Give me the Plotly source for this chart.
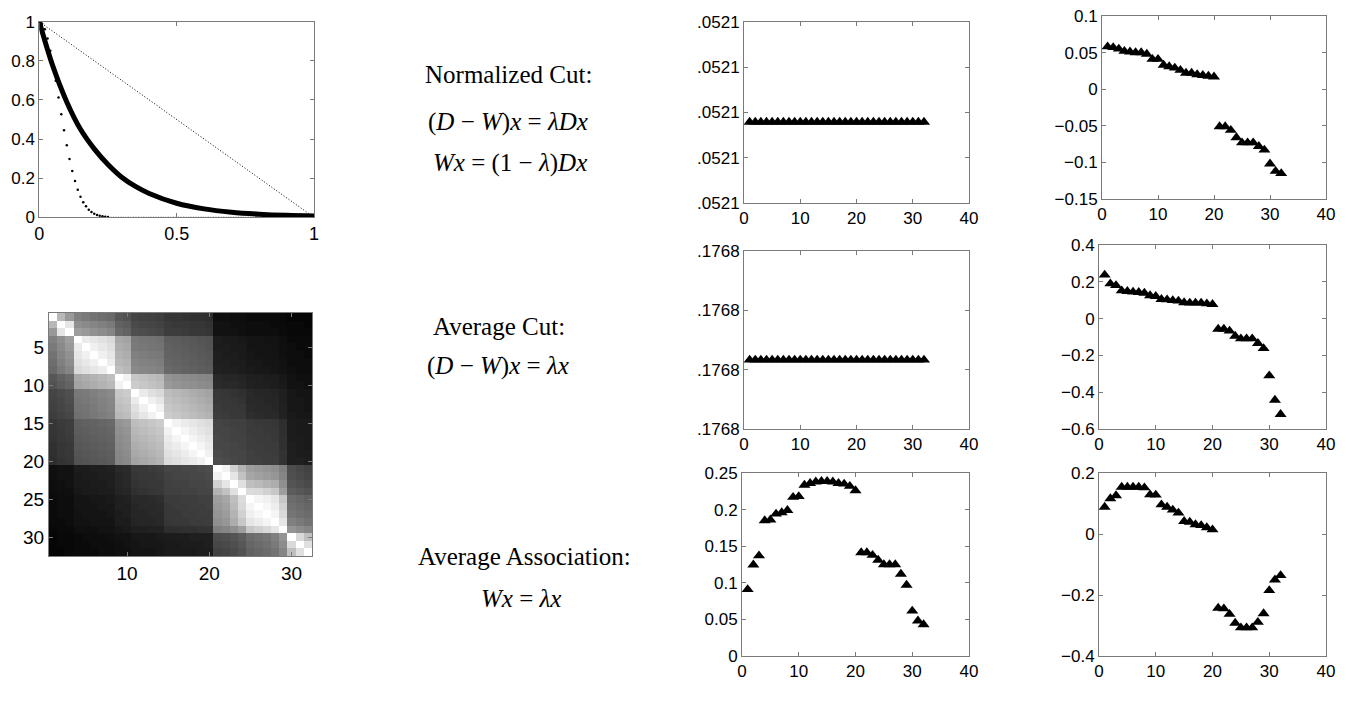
import plotly.graph_objects as go

W_PX, H_PX = 1350, 720

# ---------------- data ----------------
# top-left: weighting functions
exp_x = [0.0, 0.05, 0.1, 0.15, 0.2, 0.25, 0.3, 0.35, 0.4, 0.5, 0.6, 0.7, 0.8, 0.9, 1.0]
exp_y = [1.0, 0.77, 0.59, 0.45, 0.35, 0.27, 0.205, 0.158, 0.122, 0.072, 0.043, 0.026, 0.016, 0.01, 0.007]
lin_x = [0.0, 1.0]
lin_y = [1.0, 0.0]
gau_x = [0.00, 0.01, 0.02, 0.03, 0.04, 0.05, 0.06, 0.07, 0.08, 0.09, 0.10, 0.11, 0.12, 0.13,
         0.14, 0.15, 0.16, 0.17, 0.18, 0.19, 0.20, 0.21, 0.22, 0.23, 0.24, 0.25]
gau_y = [1.0, 0.99, 0.961, 0.914, 0.852, 0.779, 0.698, 0.613, 0.527, 0.445, 0.368, 0.298, 0.237,
         0.185, 0.141, 0.105, 0.077, 0.056, 0.039, 0.027, 0.018, 0.012, 0.008, 0.005, 0.003, 0.002]
tail_x = [0.25, 1.0]
tail_y = [0.0, 0.0]

# affinity matrix (grey level, 0 = black, 100 = white)
W_matrix = [
    [100,72,60, 50,48,45,43,41, 34,32, 27,26,25,24, 21,21,20,19,19,18, 6,6,5,5, 4,4,4,4, 3, 2,2,2],
    [72,100,90, 56,54,52,50,48, 38,36, 29,28,27,26, 23,22,22,21,21,20, 7,7,6,6, 5,5,5,4, 4, 3,3,2],
    [60,90,100, 62,60,57,55,52, 41,39, 31,30,29,28, 24,24,23,22,22,21, 7,7,7,6, 5,5,5,5, 4, 3,3,3],
    [50,56,62, 100,92,90,88,85, 66,64, 47,46,45,44, 37,36,35,34,33,32, 11,10,10,9, 8,8,7,7, 6, 4,4,4],
    [48,54,60, 92,100,94,91,88, 68,66, 48,47,46,45, 38,37,36,35,34,33, 11,11,10,10, 8,8,8,7, 6, 5,4,4],
    [45,52,57, 90,94,100,94,90, 70,68, 50,49,48,47, 39,38,37,36,35,34, 12,11,11,10, 9,8,8,8, 6, 5,5,4],
    [43,50,55, 88,91,94,100,93, 72,70, 52,51,50,49, 40,39,38,37,36,35, 12,12,11,11, 9,9,8,8, 7, 5,5,5],
    [41,48,52, 85,88,90,93,100, 75,72, 54,53,52,51, 41,40,39,38,37,36, 13,12,12,11, 10,9,9,8, 7, 6,5,5],
    [34,38,41, 66,68,70,72,75, 100,95, 78,76,74,72, 58,56,55,54,53,52, 16,15,15,14, 12,12,11,11, 9, 7,6,6],
    [32,36,39, 64,66,68,70,72, 95,100, 80,78,76,74, 60,58,57,56,55,54, 17,16,16,15, 13,12,12,11, 10, 7,7,6],
    [27,29,31, 47,48,50,52,54, 78,80, 100,92,88,85, 74,72,70,68,66,64, 22,21,20,19, 16,15,15,14, 12, 9,8,8],
    [26,28,30, 46,47,49,51,53, 76,78, 92,100,94,90, 76,74,72,70,68,66, 22,22,21,20, 16,16,15,15, 12, 9,9,8],
    [25,27,29, 45,46,48,50,52, 74,76, 88,94,100,95, 78,76,74,72,70,68, 23,22,22,21, 17,16,16,15, 13, 9,9,8],
    [24,26,28, 44,45,47,49,51, 72,74, 85,90,95,100, 80,78,76,74,72,70, 24,23,22,22, 18,17,16,16, 13, 10,9,9],
    [21,23,24, 37,38,39,40,41, 58,60, 74,76,78,80, 100,95,92,90,88,86, 27,26,25,25, 23,22,22,21, 18, 11,10,10],
    [21,22,24, 36,37,38,39,40, 56,58, 72,74,76,78, 95,100,96,93,90,88, 27,27,26,25, 23,23,22,22, 18, 11,10,10],
    [20,22,23, 35,36,37,38,39, 55,57, 70,72,74,76, 92,96,100,96,93,90, 28,27,26,26, 24,23,23,22, 19, 11,11,10],
    [19,21,22, 34,35,36,37,38, 54,56, 68,70,72,74, 90,93,96,100,96,92, 28,28,27,26, 24,24,23,23, 19, 12,11,10],
    [19,21,22, 33,34,35,36,37, 53,55, 66,68,70,72, 88,90,93,96,100,95, 29,28,27,27, 25,24,24,23, 20, 12,11,11],
    [18,20,21, 32,33,34,35,36, 52,54, 64,66,68,70, 86,88,90,92,95,100, 30,29,28,27, 25,25,24,24, 20, 12,12,11],
    [6,7,7, 11,11,12,12,13, 16,17, 22,22,23,24, 27,27,28,28,29,30, 100,95,82,70, 62,60,58,56, 50, 30,28,26],
    [6,7,7, 10,11,11,12,12, 15,16, 21,22,22,23, 26,27,27,28,28,29, 95,100,90,76, 65,63,61,59, 52, 31,29,27],
    [5,6,7, 10,10,11,11,12, 15,16, 20,21,22,22, 25,26,26,27,27,28, 82,90,100,88, 75,73,70,68, 56, 33,31,29],
    [5,6,6, 9,10,10,11,11, 14,15, 19,20,21,22, 25,25,26,26,27,27, 70,76,88,100, 86,85,82,78, 62, 36,34,32],
    [4,5,5, 8,8,9,9,10, 12,13, 16,16,17,18, 23,23,24,24,25,25, 62,65,75,86, 100,96,94,90, 78, 42,40,38],
    [4,5,5, 8,8,8,9,9, 12,12, 15,16,16,17, 22,23,23,24,24,25, 60,63,73,85, 96,100,97,93, 82, 44,42,40],
    [4,5,5, 7,8,8,8,9, 11,12, 15,15,16,16, 22,22,23,23,24,24, 58,61,70,82, 94,97,100,96, 85, 46,44,42],
    [4,4,5, 7,7,8,8,8, 11,11, 14,15,15,16, 21,22,22,23,23,24, 56,59,68,78, 90,93,96,100, 90, 50,48,45],
    [3,4,4, 6,6,6,7,7, 9,10, 12,12,13,13, 18,18,19,19,20,20, 50,52,56,62, 78,82,85,90, 100, 58,55,52],
    [2,3,3, 4,5,5,5,6, 7,7, 9,9,9,10, 11,11,11,12,12,12, 30,31,33,36, 42,44,46,50, 58, 100,85,75],
    [2,3,3, 4,4,5,5,5, 6,7, 8,9,9,9, 10,10,11,11,11,12, 28,29,31,34, 40,42,44,48, 55, 85,100,88],
    [2,2,3, 4,4,4,5,5, 6,6, 8,8,8,9, 10,10,10,10,11,11, 26,27,29,32, 38,40,42,45, 52, 75,88,100],
]
point_idx = list(range(1, 33))

# eigenvectors
ncut_v1 = [0.05210, 0.05210, 0.05210, 0.05210, 0.05210, 0.05210, 0.05210, 0.05210,
           0.05210, 0.05210, 0.05210, 0.05210, 0.05210, 0.05210, 0.05210, 0.05210,
           0.05210, 0.05210, 0.05210, 0.05210, 0.05210, 0.05210, 0.05210, 0.05210,
           0.05210, 0.05210, 0.05210, 0.05210, 0.05210, 0.05210, 0.05210, 0.05210]
ncut_v2 = [0.058, 0.057, 0.055, 0.052, 0.051, 0.050, 0.050, 0.048, 0.041, 0.041, 0.033, 0.031,
           0.029, 0.026, 0.022, 0.022, 0.020, 0.019, 0.018, 0.017, -0.051, -0.051, -0.056, -0.066,
           -0.073, -0.073, -0.073, -0.078, -0.083, -0.102, -0.112, -0.115]
acut_v1 = [0.17680, 0.17680, 0.17680, 0.17680, 0.17680, 0.17680, 0.17680, 0.17680,
           0.17680, 0.17680, 0.17680, 0.17680, 0.17680, 0.17680, 0.17680, 0.17680,
           0.17680, 0.17680, 0.17680, 0.17680, 0.17680, 0.17680, 0.17680, 0.17680,
           0.17680, 0.17680, 0.17680, 0.17680, 0.17680, 0.17680, 0.17680, 0.17680]
acut_v2 = [0.237, 0.190, 0.180, 0.152, 0.148, 0.145, 0.143, 0.139, 0.125, 0.121, 0.105, 0.103,
           0.099, 0.096, 0.087, 0.085, 0.085, 0.085, 0.081, 0.078, -0.057, -0.057, -0.067, -0.095,
           -0.109, -0.109, -0.109, -0.134, -0.162, -0.310, -0.443, -0.520]
aassoc_v1 = [0.091, 0.1245, 0.137, 0.185, 0.186, 0.194, 0.196, 0.199, 0.217, 0.218, 0.2336, 0.236,
             0.238, 0.2386, 0.2386, 0.238, 0.236, 0.235, 0.232, 0.226, 0.1414, 0.1414, 0.1378, 0.131,
             0.125, 0.125, 0.125, 0.112, 0.097, 0.0616, 0.048, 0.043]
aassoc_v2 = [0.0885, 0.116, 0.126, 0.154, 0.154, 0.154, 0.154, 0.152, 0.129, 0.128, 0.096, 0.0885,
             0.079, 0.069, 0.0415, 0.039, 0.031, 0.028, 0.021, 0.014, -0.243, -0.245, -0.263, -0.292,
             -0.307, -0.307, -0.307, -0.289, -0.261, -0.185, -0.150, -0.136]

const1_label = ".0521"
const2_label = ".1768"

# ---------------- helpers ----------------
def xd(a, b):
    return [a / W_PX, b / W_PX]

def yd(top, bottom):
    return [1 - bottom / H_PX, 1 - top / H_PX]

TICKFONT = dict(family="Liberation Sans, Arial, sans-serif", size=17, color="black")
GRAY = "#7a7a7a"

def ax(domain, rng, **kw):
    d = dict(domain=domain, range=rng, showline=True, linecolor=GRAY, linewidth=1,
             mirror="ticks", ticks="inside", ticklen=4, tickcolor=GRAY, tickwidth=1,
             showgrid=False, zeroline=False, tickfont=TICKFONT, fixedrange=True,
             automargin=False)
    d.update(kw)
    return d

fig = go.Figure()
tri = dict(symbol="triangle-up", size=10.5, color="black", line=dict(width=0))

# panel 1: weighting functions
fig.add_trace(go.Scatter(x=lin_x, y=lin_y, mode="lines", line=dict(color="black", width=1, dash="1px,2px"),
                         xaxis="x", yaxis="y", showlegend=False))
fig.add_trace(go.Scatter(x=tail_x, y=tail_y, mode="lines", line=dict(color="black", width=1, dash="1px,1.5px"),
                         xaxis="x", yaxis="y", showlegend=False))
fig.add_trace(go.Scatter(x=gau_x, y=gau_y, mode="markers", marker=dict(color="black", size=2.5),
                         xaxis="x", yaxis="y", showlegend=False))
fig.add_trace(go.Scatter(x=exp_x, y=exp_y, mode="lines", line=dict(color="black", width=5, shape="spline"),
                         xaxis="x", yaxis="y", showlegend=False))

# panel 2: affinity matrix
fig.add_trace(go.Heatmap(z=W_matrix, x=point_idx, y=point_idx, zmin=0, zmax=100,
                         colorscale=[[0, "#000000"], [1, "#ffffff"]], showscale=False,
                         xaxis="x2", yaxis="y2", hoverinfo="skip"))

# eigenvector panels
panels = [
    (ncut_v1, "x3", "y3"), (ncut_v2, "x4", "y4"),
    (acut_v1, "x5", "y5"), (acut_v2, "x6", "y6"),
    (aassoc_v1, "x7", "y7"), (aassoc_v2, "x8", "y8"),
]
for vals, xa, ya in panels:
    fig.add_trace(go.Scatter(x=point_idx, y=vals, mode="markers", marker=tri,
                             xaxis=xa, yaxis=ya, showlegend=False, cliponaxis=False))

# constant-axis ranges (MATLAB shows the same rounded label on every tick)
c1 = ncut_v1[0]
h1 = 1e-7
r1 = [c1 - 0.447 * h1, c1 + 0.553 * h1]
t1 = [r1[0] + i * (r1[1] - r1[0]) / 4 for i in range(5)]
c2 = acut_v1[0]
h2 = 1e-7
r2 = [c2 - 0.388 * h2, c2 + 0.612 * h2]
t2 = [r2[0] + i * (r2[1] - r2[0]) / 3 for i in range(4)]

xticks40 = dict(tickvals=[0, 10, 20, 30, 40])

layout = dict(
    width=W_PX, height=H_PX, margin=dict(l=0, r=0, t=0, b=0, autoexpand=False),
    paper_bgcolor="white", plot_bgcolor="white",
    xaxis=ax(xd(39.3, 314), [0, 1], tickvals=[0, 0.5, 1], tickfont=dict(TICKFONT, size=18)),
    yaxis=ax(yd(21.7, 217.3), [0, 1], tickvals=[0, 0.2, 0.4, 0.6, 0.8, 1]),
    xaxis2=ax(xd(49, 312), [0.5, 32.5], tickvals=[10, 20, 30], tickfont=dict(TICKFONT, size=19)),
    yaxis2=ax(yd(313, 556), [32.5, 0.5], tickvals=[5, 10, 15, 20, 25, 30], tickfont=dict(TICKFONT, size=19)),
    xaxis3=ax(xd(744, 969), [0, 40], **xticks40),
    yaxis3=ax(yd(22, 203), r1, tickvals=t1, ticktext=[const1_label] * 5),
    xaxis4=ax(xd(1102, 1326), [0, 40], **xticks40),
    yaxis4=ax(yd(16, 199), [-0.15, 0.1], dtick=0.05, tick0=0),
    xaxis5=ax(xd(744, 969), [0, 40], **xticks40),
    yaxis5=ax(yd(251, 429), r2, tickvals=t2, ticktext=[const2_label] * 4),
    xaxis6=ax(xd(1099, 1326), [0, 40], **xticks40),
    yaxis6=ax(yd(245, 429), [-0.6, 0.4], dtick=0.2, tick0=0),
    xaxis7=ax(xd(742, 969), [0, 40], **xticks40),
    yaxis7=ax(yd(473, 656), [0, 0.25], dtick=0.05, tick0=0),
    xaxis8=ax(xd(1099, 1326), [0, 40], **xticks40),
    yaxis8=ax(yd(473, 656), [-0.4, 0.2], dtick=0.2, tick0=0),
)
for i in range(2, 9):
    layout[f"xaxis{i}"]["anchor"] = f"y{i}"
    layout[f"yaxis{i}"]["anchor"] = f"x{i}"
layout["xaxis"]["anchor"] = "y"
layout["yaxis"]["anchor"] = "x"

SERIF = "Liberation Serif, DejaVu Serif, serif"
texts = [
    ("Normalized Cut:", 508, 75),
    ("(<i>D</i> − <i>W</i>)<i>x</i> = <i>λDx</i>", 508, 122),
    ("<i>Wx</i> = (1 − <i>λ</i>)<i>Dx</i>", 510, 163),
    ("Average Cut:", 499, 327),
    ("(<i>D</i> − <i>W</i>)<i>x</i> = <i>λx</i>", 498, 366),
    ("Average Association:", 524, 556),
    ("<i>Wx</i> = <i>λx</i>", 521, 598),
]
layout["annotations"] = [
    dict(text=t, x=px / W_PX, y=1 - py / H_PX, xref="paper", yref="paper", showarrow=False,
         xanchor="center", yanchor="middle", font=dict(family=SERIF, size=25, color="black"))
    for t, px, py in texts
]

fig.update_layout(**layout)
fig.write_html("out.html", config={"displayModeBar": False},
               post_script="document.body.style.margin='0';document.body.style.overflow='hidden';")
